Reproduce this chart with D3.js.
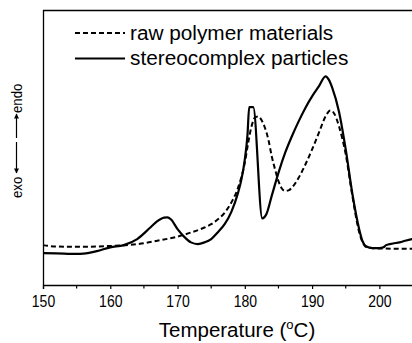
<!DOCTYPE html>
<html><head><meta charset="utf-8">
<script src="https://cdn.jsdelivr.net/npm/d3@7"></script>
<style>body{margin:0;background:#fff}svg{display:block}text{font-family:"Liberation Sans",Arial,sans-serif;fill:#000}</style>
</head><body>
<script>
// Temperature (°C)
const rawT = [150,152,155,158,160,163,165,167,170,172,174,175,176,177,178,179,180,180.5,181,181.5,182,182.5,183,183.5,184,184.5,185,185.5,186,186.5,187,188,189,190,191,192,192.7,193.3,194,195,196,197,197.5,198,199,200,202,205];
// heat flow, arbitrary units (endo up)
const rawV = [1.45,1.40,1.39,1.40,1.42,1.46,1.52,1.61,1.76,1.91,2.09,2.21,2.39,2.63,3.00,3.54,4.45,5.17,5.77,6.09,6.13,5.99,5.71,5.29,4.68,4.20,3.78,3.51,3.42,3.44,3.54,3.90,4.38,4.93,5.53,6.13,6.35,6.23,5.77,4.75,3.22,1.92,1.56,1.39,1.34,1.33,1.32,1.32];
const scT = [150,152,155,156,158,160,162,164,166,167,168,168.5,169,170,171,172,173,174,175,176,177,178,179,179.5,180,180.4,180.65,181.25,182.6,183.2,184,185,186,187,188,189,190,191,192,192.5,193,194,195,196,197,197.5,198,199,200,200.6,201,202,203,204,205];
const scV = [1.16,1.15,1.13,1.14,1.23,1.37,1.45,1.67,2.10,2.32,2.45,2.46,2.39,2.03,1.75,1.55,1.49,1.55,1.67,1.92,2.21,2.66,3.36,3.84,4.57,5.47,6.47,6.47,2.42,2.57,3.24,4.08,4.81,5.41,5.95,6.44,6.86,7.22,7.59,7.46,7.17,6.30,4.93,3.30,2.03,1.59,1.41,1.34,1.34,1.37,1.45,1.51,1.55,1.62,1.68];
const seriesNames = ["raw polymer materials","stereocomplex particles"];
const xTicks = [150,160,170,180,190,200];
const xMinor = [155,165,175,185,195,205];

const W=412,H=343;
const svg=d3.select("body").append("svg").attr("width",W).attr("height",H);
const x=d3.scaleLinear().domain([150,205]).range([43,413]);
const y=d3.scaleLinear().domain([0,10]).range([285,10]);

// frame
svg.append("line").attr("x1",43).attr("x2",W).attr("y1",10.5).attr("y2",10.5).attr("stroke","#000").attr("stroke-width",1.3);
svg.append("line").attr("x1",43.5).attr("x2",43.5).attr("y1",10).attr("y2",285).attr("stroke","#000").attr("stroke-width",1.3);

const ax=svg.append("g").attr("transform","translate(0,285)")
  .call(d3.axisBottom(x).tickValues(xTicks).tickSize(4).tickPadding(5).tickFormat(d3.format("d")));
ax.select(".domain").attr("stroke-width",1.3);
ax.selectAll(".tick line").attr("stroke-width",1.2);
ax.selectAll(".tick text").each(function(){
  const s=d3.select(this);
  s.attr("font-size",14).attr("font-family","Liberation Sans, Arial, sans-serif")
   .attr("dy",null).attr("y",null).attr("transform","translate(0,21.5) scale(1,1.15)");
});
svg.append("g").selectAll("line").data(xMinor).join("line")
  .attr("x1",d=>x(d)).attr("x2",d=>x(d)).attr("y1",285).attr("y2",288.5).attr("stroke","#000").attr("stroke-width",1.2);

const line=(T,V)=>d3.line().x((d,i)=>x(T[i])).y(d=>y(d)).curve(d3.curveMonotoneX)(V);
svg.append("path").attr("d",line(rawT,rawV)).attr("fill","none").attr("stroke","#000").attr("stroke-width",2).attr("stroke-dasharray","5,3");
svg.append("path").attr("d",line(scT,scV)).attr("fill","none").attr("stroke","#000").attr("stroke-width",2.2).attr("stroke-linejoin","round");

// legend
const lg=svg.append("g");
lg.append("line").attr("x1",75).attr("x2",125).attr("y1",33).attr("y2",33).attr("stroke","#000").attr("stroke-width",2).attr("stroke-dasharray","5,3");
lg.append("line").attr("x1",75).attr("x2",125).attr("y1",58.5).attr("y2",58.5).attr("stroke","#000").attr("stroke-width",2.2);
lg.append("text").attr("transform","translate(130,40) scale(1,0.95)").attr("font-size",20.8).text(seriesNames[0]);
lg.append("text").attr("transform","translate(130,65) scale(1,0.95)").attr("font-size",20.8).text(seriesNames[1]);

// x title
const t=svg.append("text").attr("x",237).attr("y",337).attr("text-anchor","middle").attr("font-size",20.5);
t.append("tspan").text("Temperature (");
t.append("tspan").attr("font-size",13).attr("dy",-8).text("o");
t.append("tspan").attr("dy",8).text("C)");

// y label
const defs=svg.append("defs");
defs.append("marker").attr("id","ah").attr("viewBox","0 0 10 10").attr("refX",9).attr("refY",5)
  .attr("markerWidth",6).attr("markerHeight",5).attr("orient","auto").attr("markerUnits","userSpaceOnUse")
  .append("path").attr("d","M0,0L10,5L0,10Z").attr("fill","#000");
const yl=svg.append("g").attr("transform","translate(22,0) rotate(-90)");
yl.append("text").attr("transform","translate(-198,0) scale(0.85,1)").attr("font-size",15.5).text("exo");
yl.append("text").attr("transform","translate(-113,0) scale(0.85,1)").attr("font-size",15.5).text("endo");
svg.append("line").attr("x1",16.5).attr("x2",16.5).attr("y1",142).attr("y2",173).attr("stroke","#000").attr("stroke-width",1.2).attr("marker-end","url(#ah)");
svg.append("line").attr("x1",16.5).attr("x2",16.5).attr("y1",138).attr("y2",114).attr("stroke","#000").attr("stroke-width",1.2).attr("marker-end","url(#ah)");
</script>
</body></html>
